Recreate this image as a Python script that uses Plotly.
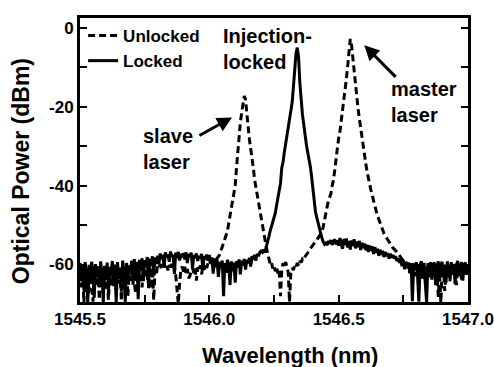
import numpy as np
import plotly.graph_objects as go

# Wavelength sampling grid of the OSA traces (nm), 0.005 nm steps
wavelength = np.round(1545.5 + 0.005 * np.arange(301), 3)

# Free-running (unlocked) spectrum, dBm
unlocked_left = [
    -62.5, -65.8, -61.0, -69.7, -62.9, -64.2, -61.4, -67.3, -63.5, -61.2, -69.4, -62.0, -65.1, -61.7, -63.8, -68.9, -61.5, -64.6, -62.3, -66.4,
    -61.1, -64.0, -69.0, -62.4, -65.3, -61.3, -63.7, -62.0, -67.6, -61.6, -64.8, -62.2, -69.3, -61.9, -63.0, -65.9, -61.4, -68.1, -62.6, -64.1,
    -62.0, -61.1, -64.6, -67.4, -61.5, -63.3, -61.0, -62.7, -65.8, -61.3, -62.5, -60.9, -64.0, -61.2, -62.1, -66.2, -60.8, -69.0, -61.4, -62.6,
    -60.1, -60.6, -59.9, -61.2, -60.3, -59.8, -60.9, -60.2, -61.5, -60.0, -60.7, -59.9, -61.0, -60.4, -62.6, -66.5, -70.0, -64.8, -61.3, -60.5,
    -61.8, -60.6, -62.4, -61.1, -63.5, -62.9, -61.4, -60.8, -62.2, -61.0, -64.1, -60.7, -61.6, -60.2, -62.5, -60.4, -61.3, -59.8, -60.9, -59.4,
]
unlocked_middle = [
    -59.8, -58.9, -60.3, -59.2, -58.6, -59.5, -58.4, -58.0, -57.5, -56.5, -55.5, -54.5, -53.5, -52.5, -51.5, -49.5, -47.5, -46.0, -44.0, -42.5,
    -40.0, -35.5, -31.0, -27.0, -24.0, -21.5, -19.5, -17.3, -18.2, -21.0, -25.0, -28.3, -30.5, -33.0, -35.5, -38.5, -40.5, -42.0, -44.0, -46.0,
    -47.5, -49.5, -51.5, -53.5, -55.5, -57.0, -58.6, -59.8, -59.3, -61.0, -60.2, -61.7, -60.5, -62.3, -61.2, -68.0, -61.5, -59.6, -60.8, -59.4,
    -60.5, -62.0, -69.5, -62.2, -60.9, -61.4, -60.2, -60.7, -59.6, -60.3, -59.1, -59.5, -58.6, -58.9, -58.0, -57.6, -57.2, -56.6, -56.0, -55.6,
    -55.0, -54.7, -54.2, -53.8, -53.3, -52.8, -52.3, -51.8, -50.5, -48.5, -47.0, -45.5, -44.0, -43.0, -42.0, -40.0, -38.5, -36.0, -32.5, -30.5,
]
unlocked_right = [
    -28.0, -26.3, -23.5, -21.0, -18.8, -16.0, -12.8, -9.5, -5.5, -2.8, -4.5, -8.0, -11.5, -15.0, -17.8, -20.5, -23.0, -25.5, -27.8, -30.0,
    -32.5, -34.5, -36.5, -38.3, -39.8, -41.2, -42.5, -43.6, -45.0, -46.4, -47.6, -48.6, -49.7, -50.6, -51.4, -52.1, -52.7, -53.2, -53.9, -54.5,
    -55.0, -55.4, -55.8, -56.1, -56.4, -56.8, -57.3, -57.7, -58.2, -58.6, -59.0, -60.3, -59.4, -61.0, -59.8, -62.2, -60.1, -61.4, -59.7, -63.0,
    -60.3, -62.4, -59.9, -63.1, -60.7, -61.6, -59.6, -64.0, -60.5, -62.3, -60.0, -63.5, -60.9, -61.8, -59.8, -65.0, -61.0, -68.2, -62.0, -69.8,
    -61.4, -60.2, -66.7, -62.3, -60.6, -62.2, -64.3, -60.4, -62.6, -60.9, -61.5, -65.2, -60.3, -62.2, -60.7, -63.8, -60.1, -62.9, -61.0, -60.6,
    -61.2,
]

# Injection-locked spectrum, dBm
locked_left = [
    -59.6, -63.8, -60.2, -66.5, -59.4, -62.7, -69.8, -60.1, -64.9, -59.3, -61.8, -68.4, -59.9, -63.2, -60.4, -65.8, -59.2, -62.5, -69.6, -60.3,
    -63.9, -59.5, -67.2, -60.6, -62.4, -59.1, -65.5, -60.0, -69.7, -59.4, -63.6, -60.8, -66.9, -59.0, -62.2, -69.5, -59.6, -64.3, -60.2, -61.7,
    -59.0, -65.1, -58.6, -62.6, -59.3, -68.8, -58.8, -61.5, -58.4, -64.2, -58.9, -60.7, -58.1, -66.0, -58.5, -60.3, -57.9, -62.8, -58.2, -59.9,
    -57.8, -59.9, -57.2, -58.6, -57.5, -60.8, -56.9, -58.1, -57.4, -59.3, -56.7, -58.0, -57.6, -62.4, -57.0, -58.4, -56.8, -59.0, -57.3, -58.2,
    -57.1, -58.7, -56.9, -59.6, -57.4, -58.0, -57.0, -60.9, -57.6, -58.3, -57.2, -59.1, -57.8, -58.5, -57.3, -61.5, -57.9, -58.6, -57.5, -59.0,
]
locked_middle = [
    -57.6, -59.8, -58.2, -62.3, -58.5, -60.7, -58.9, -63.1, -59.3, -61.0, -59.0, -68.0, -59.6, -62.1, -58.8, -60.4, -65.2, -59.2, -61.7, -59.5,
    -64.6, -59.1, -60.8, -58.7, -62.5, -59.0, -60.2, -58.6, -61.3, -58.8, -59.7, -58.3, -60.5, -57.9, -58.6, -57.6, -59.0, -57.3, -57.9, -56.9,
    -56.6, -56.9, -56.2, -57.0, -55.5, -54.5, -53.0, -51.5, -50.5, -49.0, -48.0, -47.0, -45.0, -43.0, -41.5, -39.5, -35.5, -34.0, -31.5, -29.5,
    -27.0, -25.0, -23.0, -21.0, -19.0, -15.0, -10.0, -6.5, -5.0, -7.5, -14.0, -19.0, -22.0, -24.5, -27.5, -29.5, -31.5, -33.0, -35.0, -37.5,
    -41.0, -44.0, -46.5, -48.0, -49.5, -50.8, -52.0, -53.2, -54.2, -54.8, -54.3, -55.1, -54.0, -54.7, -53.8, -55.0, -54.2, -53.6, -54.9, -53.9,
]
locked_right = [
    -55.2, -53.3, -54.8, -56.0, -53.5, -55.1, -53.4, -55.7, -54.0, -56.2, -53.9, -55.3, -53.6, -55.9, -54.2, -55.6, -54.0, -56.3, -54.5, -55.8,
    -54.7, -56.4, -55.0, -56.8, -55.2, -56.5, -55.4, -57.3, -55.6, -57.0, -56.0, -57.8, -56.2, -57.5, -56.5, -58.1, -56.8, -57.9, -57.1, -58.5,
    -57.3, -58.2, -57.6, -58.5, -57.9, -59.1, -58.4, -59.6, -58.7, -60.4, -59.0, -61.2, -59.3, -60.5, -59.5, -62.0, -59.6, -69.3, -60.1, -61.4,
    -59.4, -62.9, -69.4, -60.0, -59.2, -63.6, -60.4, -64.5, -69.5, -59.6, -62.3, -59.4, -63.8, -60.0, -59.5, -65.2, -60.6, -59.2, -63.1, -60.1,
    -59.3, -62.8, -60.0, -64.6, -59.2, -61.7, -63.5, -59.4, -62.2, -59.8, -65.0, -60.1, -59.1, -63.0, -60.4, -59.4, -64.1, -60.0, -59.5, -62.6,
    -60.2,
]

unlocked = unlocked_left + unlocked_middle + unlocked_right
locked = locked_left + locked_middle + locked_right

# Axis ticks (labels only on every other tick)
x_tickvals = [1545.5, 1545.75, 1546.0, 1546.25, 1546.5, 1546.75, 1547.0]
x_ticktext = ["1545.5", "", "1546.0", "", "1546.5", "", "1547.0"]
y_tickvals = [-60, -50, -40, -30, -20, -10, 0]
y_ticktext = ["-60", "", "-40", "", "-20", "", "0"]

FONT = "Liberation Sans, Arial, sans-serif"

fig = go.Figure()
fig.add_trace(go.Scatter(
    x=wavelength, y=unlocked, mode="lines", name="Unlocked",
    line=dict(color="black", width=3, dash="7px,4px"),
))
fig.add_trace(go.Scatter(
    x=wavelength, y=locked, mode="lines", name="Locked",
    line=dict(color="black", width=3),
))

axis_common = dict(
    showline=True, linecolor="black", linewidth=3,
    ticks="inside", ticklen=7, tickwidth=2, tickcolor="black",
    showgrid=False, zeroline=False, automargin=False,
    tickfont=dict(family=FONT, size=17, color="black", weight="bold"),
)
fig.update_xaxes(range=[1545.5, 1547.0], tickvals=x_tickvals, ticktext=x_ticktext,
                 mirror=True, **axis_common)
fig.update_yaxes(range=[-69.5, 2.5], tickvals=y_tickvals, ticktext=y_ticktext,
                 mirror="ticks", **axis_common)

bold20 = dict(family=FONT, size=20, color="black", weight="bold")
annotations = [
    # axis titles
    dict(text="Wavelength (nm)", xref="paper", yref="paper", x=0.542, y=-0.19,
         xanchor="center", yanchor="middle", showarrow=False,
         font=dict(family=FONT, size=22, color="black", weight="bold")),
    dict(text="Optical Power (dBm)", xref="paper", yref="paper", x=-0.15, y=0.46,
         xanchor="center", yanchor="middle", textangle=-90, showarrow=False,
         font=dict(family=FONT, size=23, color="black", weight="bold")),
    # peak labels
    dict(text="Injection-<br>locked", x=1546.044, y=-5.3, xanchor="left", yanchor="middle",
         align="left", showarrow=False, font=bold20),
    dict(text="slave<br>laser", x=1545.736, y=-30.7, xanchor="left", yanchor="middle",
         align="left", showarrow=False, font=bold20),
    dict(text="master<br>laser", x=1546.696, y=-18.8, xanchor="left", yanchor="middle",
         align="left", showarrow=False, font=bold20),
    # arrows pointing at the free-running peaks
    dict(text="", x=1546.088, y=-22.7, ax=1545.956, ay=-27.5, axref="x", ayref="y",
         showarrow=True, arrowhead=2, arrowsize=1, arrowwidth=3, arrowcolor="black"),
    dict(text="", x=1546.599, y=-4.4, ax=1546.726, ay=-12.8, axref="x", ayref="y",
         showarrow=True, arrowhead=2, arrowsize=1, arrowwidth=3, arrowcolor="black"),
]

fig.update_layout(
    width=494, height=367, autosize=False,
    margin=dict(l=80, r=26, t=18, b=65),
    paper_bgcolor="white", plot_bgcolor="white",
    showlegend=True,
    legend=dict(x=0.008, y=1.0, xanchor="left", yanchor="top",
                bgcolor="rgba(0,0,0,0)", borderwidth=0, tracegroupgap=0,
                font=dict(family=FONT, size=17, color="black", weight="bold")),
    annotations=annotations,
)

fig.write_html("out.html")
